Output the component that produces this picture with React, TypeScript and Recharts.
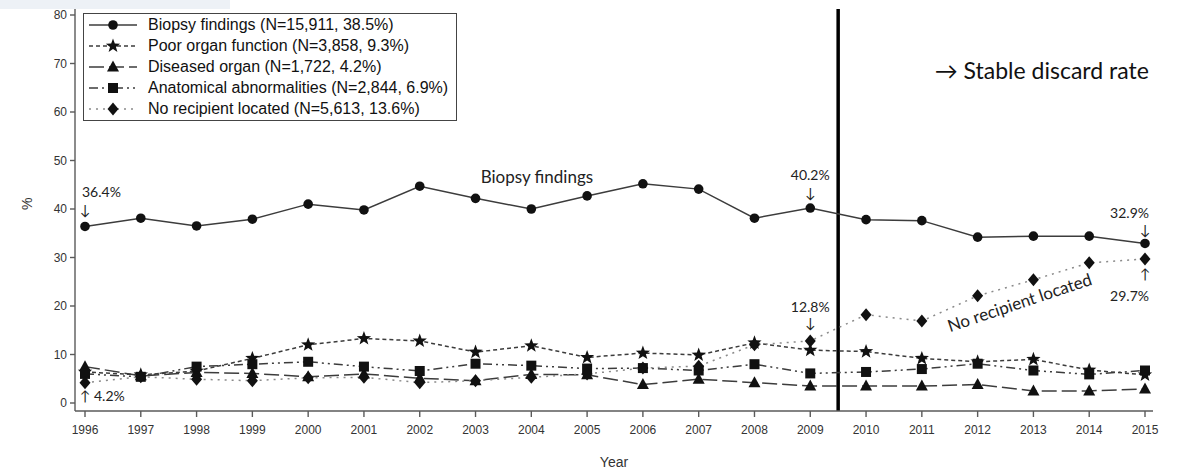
import React from "react"
import { LineChart, Line, XAxis, YAxis, ReferenceLine, ReferenceDot, Legend } from "recharts"

// ---- data -------------------------------------------------------------
const years = [
  1996, 1997, 1998, 1999, 2000, 2001, 2002, 2003, 2004, 2005,
  2006, 2007, 2008, 2009, 2010, 2011, 2012, 2013, 2014, 2015,
]
const biopsyFindings = [
  36.4, 38.1, 36.5, 37.9, 41.0, 39.8, 44.7, 42.2, 40.0, 42.7,
  45.2, 44.1, 38.1, 40.2, 37.8, 37.6, 34.2, 34.4, 34.4, 32.9,
]
const poorOrganFunction = [
  6.4, 5.8, 6.6, 9.2, 12.0, 13.3, 12.8, 10.5, 11.8, 9.4,
  10.3, 9.9, 12.4, 10.9, 10.6, 9.2, 8.5, 9.0, 6.8, 5.8,
]
const diseasedOrgan = [
  7.5, 5.6, 6.3, 6.1, 5.4, 6.0, 5.1, 4.6, 5.9, 5.8,
  3.8, 4.9, 4.2, 3.5, 3.5, 3.5, 3.8, 2.5, 2.5, 2.9,
]
const anatomicalAbnormalities = [
  6.0, 5.4, 7.5, 8.0, 8.5, 7.5, 6.6, 8.1, 7.7, 7.1,
  7.2, 6.7, 8.0, 6.1, 6.4, 7.0, 8.1, 6.7, 5.9, 6.7,
]
const noRecipientLocated = [
  4.2, 5.4, 4.9, 4.6, 5.2, 5.3, 4.2, 4.6, 5.3, 6.0,
  7.2, 7.6, 12.0, 12.8, 18.2, 16.9, 22.1, 25.4, 28.9, 29.7,
]
const yTicks = [0, 10, 20, 30, 40, 50, 60, 70, 80]
const legendNames = [
  "Biopsy findings (N=15,911, 38.5%)",
  "Poor organ function (N=3,858, 9.3%)",
  "Diseased organ (N=1,722, 4.2%)",
  "Anatomical abnormalities (N=2,844, 6.9%)",
  "No recipient located (N=5,613, 13.6%)",
]

const data = years.map((year, i) => ({
  year,
  biopsy: biopsyFindings[i],
  poor: poorOrganFunction[i],
  diseased: diseasedOrgan[i],
  anatomical: anatomicalAbnormalities[i],
  noRecipient: noRecipientLocated[i],
}))

const idx = (y: number) => years.indexOf(y)

// ---- styling ----------------------------------------------------------
const INK = "#111"
const FRAME = "#5a5a5a"
const AXIS_FONT = "'Liberation Sans', Arial, sans-serif"
const NOTE_FONT = "Lato, 'Open Sans', sans-serif"

type MarkProps = { cx?: number; cy?: number }

function CircleMark({ cx = 0, cy = 0 }: MarkProps) {
  return <circle cx={cx} cy={cy} r={4.8} fill={INK} />
}

function StarMark({ cx = 0, cy = 0 }: MarkProps) {
  const pts: string[] = []
  for (let k = 0; k < 10; k++) {
    const r = k % 2 === 0 ? 7.5 : 3.1
    const a = -Math.PI / 2 + (k * Math.PI) / 5
    pts.push(`${cx + r * Math.cos(a)},${cy + r * Math.sin(a)}`)
  }
  return <polygon points={pts.join(" ")} fill={INK} />
}

function TriangleMark({ cx = 0, cy = 0 }: MarkProps) {
  return <polygon points={`${cx},${cy - 6.5} ${cx + 6},${cy + 4.5} ${cx - 6},${cy + 4.5}`} fill={INK} />
}

function SquareMark({ cx = 0, cy = 0 }: MarkProps) {
  return <rect x={cx - 5} y={cy - 5} width={10} height={10} fill={INK} />
}

function DiamondMark({ cx = 0, cy = 0 }: MarkProps) {
  return <polygon points={`${cx},${cy - 6.5} ${cx + 5.5},${cy} ${cx},${cy + 6.5} ${cx - 5.5},${cy}`} fill={INK} />
}

const SERIES = [
  { key: "biopsy", name: legendNames[0], stroke: "#3c3c3c", dash: undefined, Mark: CircleMark },
  { key: "poor", name: legendNames[1], stroke: "#3c3c3c", dash: "4 3", Mark: StarMark },
  { key: "diseased", name: legendNames[2], stroke: "#3c3c3c", dash: "15 5", Mark: TriangleMark },
  { key: "anatomical", name: legendNames[3], stroke: "#3c3c3c", dash: "9 4 2 4 2 4", Mark: SquareMark },
  { key: "noRecipient", name: legendNames[4], stroke: "#8a8a8a", dash: "2 5", Mark: DiamondMark },
]

function LegendBox() {
  return (
    <div
      style={{
        border: `1.5px solid #444`,
        background: "#fff",
        padding: "1px 8px 1px 3px",
        fontFamily: AXIS_FONT,
        fontSize: 16,
        color: INK,
      }}
    >
      {SERIES.map((s) => (
        <div key={s.key} style={{ display: "flex", alignItems: "center", height: 20.8 }}>
          <svg width={52} height={16}>
            <line x1={2} x2={50} y1={8} y2={8} stroke={s.stroke} strokeWidth={1.5} strokeDasharray={s.dash} />
            <s.Mark cx={26} cy={8} />
          </svg>
          <span style={{ marginLeft: 9, whiteSpace: "nowrap" }}>{s.name}</span>
        </div>
      ))}
    </div>
  )
}

// value callout with a small arrow pointing at the point
function ArrowNote(props: {
  cx?: number
  cy?: number
  label: string
  up?: boolean
  anchor: "start" | "middle" | "end"
  dx: number
  labelDy: number
  arrowDy: number
}) {
  const { cx = 0, cy = 0, label, up, anchor, dx, labelDy, arrowDy } = props
  return (
    <g fill="#222" fontFamily={NOTE_FONT} fontSize={14}>
      <text x={cx} y={cy + arrowDy} textAnchor="middle" dominantBaseline="central">
        {up ? "↑" : "↓"}
      </text>
      <text x={cx + dx} y={cy + labelDy} textAnchor={anchor} dominantBaseline="central">
        {label}
      </text>
    </g>
  )
}

const pct = (v: number) => `${v.toFixed(1)}%`

export default function App() {
  return (
    <div style={{ position: "absolute", left: 0, top: 0, width: 1178, height: 471, background: "#fff" }}>
      <div style={{ position: "absolute", left: 0, top: 0, width: 230, height: 9, background: "#edf1f6" }} />
      <LineChart
        width={1178}
        height={471}
        data={data}
        margin={{ top: 9, right: 25, bottom: 0, left: 0 }}
      >
        <XAxis
          dataKey="year"
          type="number"
          domain={[1996, 2015]}
          ticks={years}
          interval={0}
          padding={{ left: 10, right: 8 }}
          height={60}
          stroke={FRAME}
          strokeWidth={1.4}
          tickSize={6}
          tickMargin={8}
          tick={{ fontSize: 12, fill: "#333", fontFamily: AXIS_FONT }}
          label={{ value: "Year", position: "insideBottom", offset: 4, fontSize: 14, fill: "#333", fontFamily: AXIS_FONT }}
        />
        <XAxis
          xAxisId="top"
          orientation="top"
          type="number"
          domain={[1996, 2015]}
          padding={{ left: 10, right: 8 }}
          height={0}
          tick={false}
          tickLine={false}
          stroke={FRAME}
          strokeWidth={1.4}
        />
        <YAxis
          type="number"
          domain={[0, 80]}
          ticks={yTicks}
          interval={0}
          padding={{ top: 6, bottom: 8 }}
          width={75}
          stroke={FRAME}
          strokeWidth={1.4}
          tickSize={5}
          tickMargin={3}
          tick={{ fontSize: 12, fill: "#333", fontFamily: AXIS_FONT }}
          label={{ value: "%", angle: -90, position: "insideLeft", offset: 27, fontSize: 14, fill: "#333", fontFamily: AXIS_FONT }}
        />
        <YAxis
          yAxisId="right"
          orientation="right"
          type="number"
          domain={[0, 80]}
          width={0}
          tick={false}
          tickLine={false}
          stroke={FRAME}
          strokeWidth={1.4}
        />

        <Legend
          layout="horizontal"
          verticalAlign="middle"
          align="center"
          content={() => <LegendBox />}
          wrapperStyle={{ left: 83, top: 13, width: "auto", height: "auto" }}
        />

        <ReferenceLine x={2009.5} stroke="#000" strokeWidth={3.5} />

        {SERIES.map((s) => (
          <Line
            key={s.key}
            dataKey={s.key}
            name={s.name}
            type="linear"
            stroke={s.stroke}
            strokeWidth={1.5}
            strokeDasharray={s.dash}
            dot={(p: any) => <s.Mark key={`${s.key}-${p.index}`} cx={p.cx} cy={p.cy} />}
            activeDot={false}
            isAnimationActive={false}
          />
        ))}

        {/* value callouts */}
        <ReferenceDot
          x={1996} y={biopsyFindings[idx(1996)]} r={0} ifOverflow="visible"
          shape={(p: any) => <ArrowNote cx={p.cx} cy={p.cy} label={pct(biopsyFindings[idx(1996)])} anchor="start" dx={-3} labelDy={-35} arrowDy={-17} />}
        />
        <ReferenceDot
          x={2009} y={biopsyFindings[idx(2009)]} r={0} ifOverflow="visible"
          shape={(p: any) => <ArrowNote cx={p.cx} cy={p.cy} label={pct(biopsyFindings[idx(2009)])} anchor="middle" dx={0} labelDy={-34} arrowDy={-16} />}
        />
        <ReferenceDot
          x={2015} y={biopsyFindings[idx(2015)]} r={0} ifOverflow="visible"
          shape={(p: any) => <ArrowNote cx={p.cx} cy={p.cy} label={pct(biopsyFindings[idx(2015)])} anchor="end" dx={4} labelDy={-31} arrowDy={-14} />}
        />
        <ReferenceDot
          x={2009} y={noRecipientLocated[idx(2009)]} r={0} ifOverflow="visible"
          shape={(p: any) => <ArrowNote cx={p.cx} cy={p.cy} label={pct(noRecipientLocated[idx(2009)])} anchor="middle" dx={0} labelDy={-34} arrowDy={-18} />}
        />
        <ReferenceDot
          x={2015} y={noRecipientLocated[idx(2015)]} r={0} ifOverflow="visible"
          shape={(p: any) => <ArrowNote cx={p.cx} cy={p.cy} label={pct(noRecipientLocated[idx(2015)])} up anchor="end" dx={4} labelDy={37} arrowDy={15} />}
        />
        <ReferenceDot
          x={1996} y={noRecipientLocated[idx(1996)]} r={0} ifOverflow="visible"
          shape={(p: any) => <ArrowNote cx={p.cx} cy={p.cy} label={pct(noRecipientLocated[idx(1996)])} up anchor="start" dx={9} labelDy={13} arrowDy={13} />}
        />

        {/* series names written on the plot */}
        <ReferenceDot
          x={2004.1} y={46.8} r={0} ifOverflow="visible"
          shape={(p: any) => (
            <text x={p.cx} y={p.cy} textAnchor="middle" dominantBaseline="central" fontFamily={NOTE_FONT} fontSize={17} fill="#222">
              Biopsy findings
            </text>
          )}
        />
        <ReferenceDot
          x={2012.75} y={20.8} r={0} ifOverflow="visible"
          shape={(p: any) => (
            <text x={p.cx} y={p.cy} textAnchor="middle" dominantBaseline="central" fontFamily={NOTE_FONT} fontSize={17} fill="#222"
              transform={`rotate(-18.5 ${p.cx} ${p.cy})`}>
              No recipient located
            </text>
          )}
        />
        <ReferenceDot
          x={2013.15} y={68.7} r={0} ifOverflow="visible"
          shape={(p: any) => (
            <text x={p.cx} y={p.cy} textAnchor="middle" dominantBaseline="central" fontFamily={NOTE_FONT} fontSize={23} fill="#111">
              → Stable discard rate
            </text>
          )}
        />
      </LineChart>
    </div>
  )
}
